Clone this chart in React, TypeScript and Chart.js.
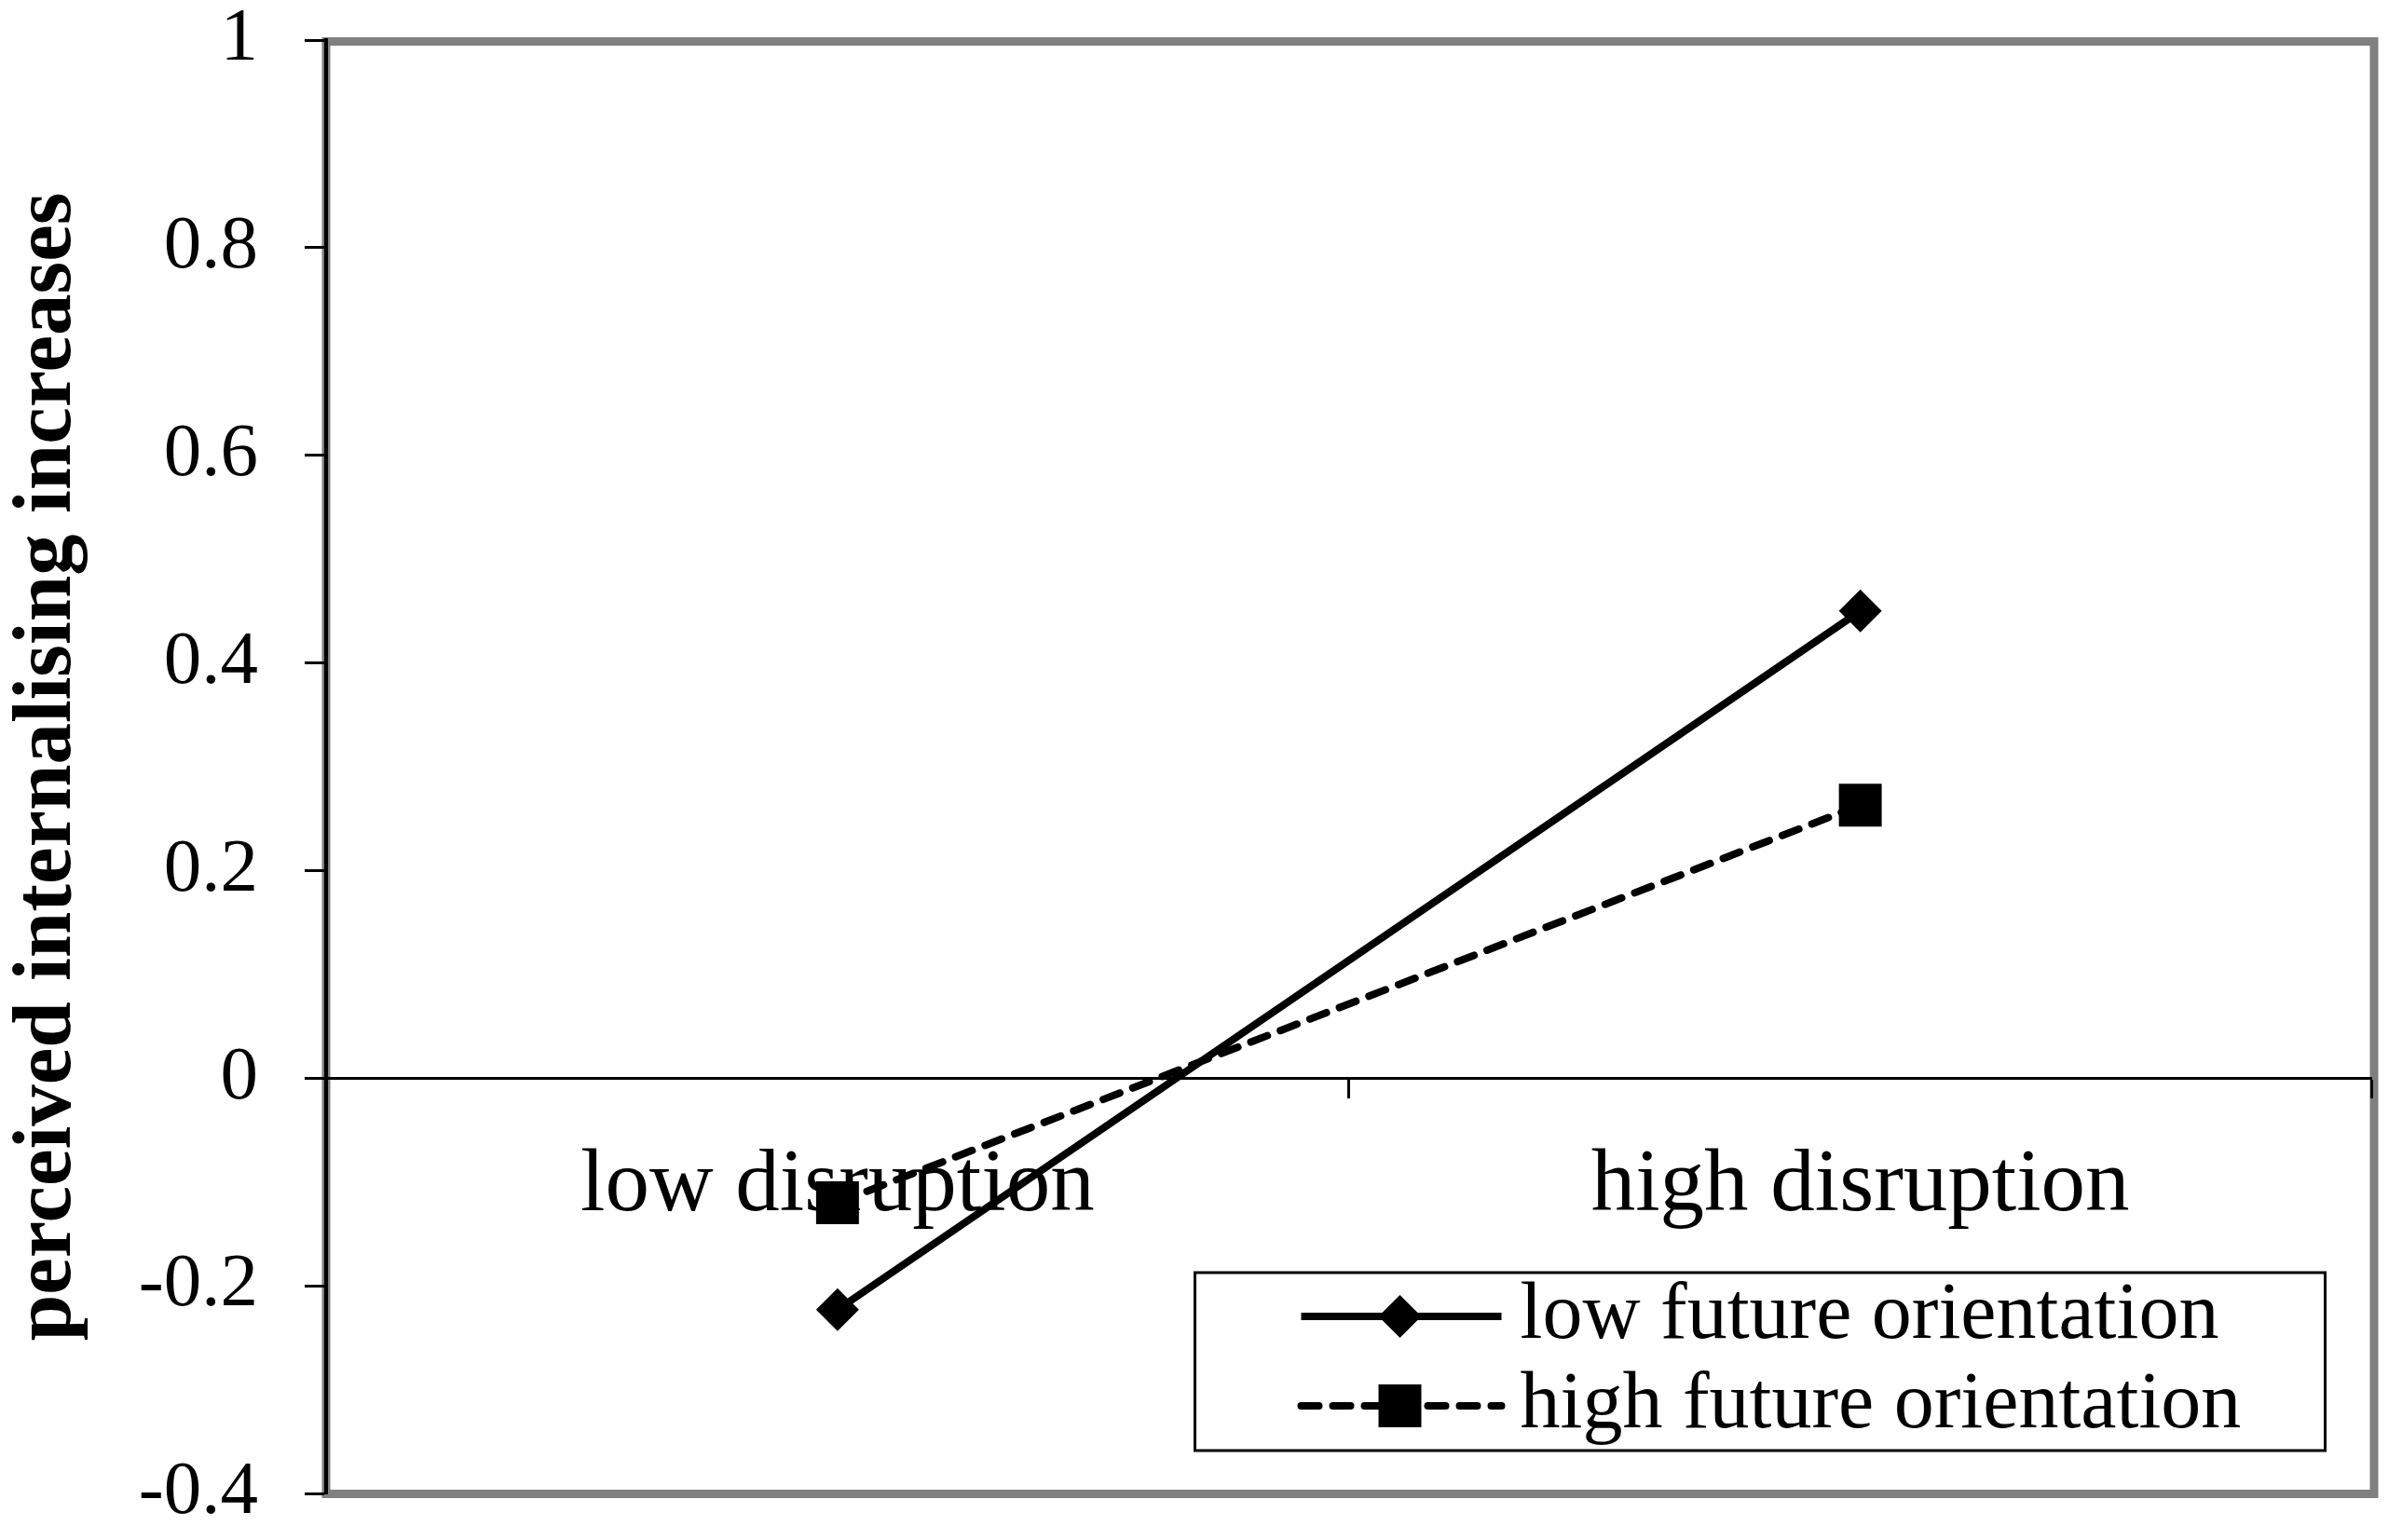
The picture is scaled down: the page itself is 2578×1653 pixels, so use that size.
import { useEffect, useRef } from "react";
import Chart from "chart.js/auto";

const CATEGORIES = ["low disruption", "high disruption"];
const LOW_FUTURE_LABEL = "low future orientation";
const HIGH_FUTURE_LABEL = "high future orientation";
const LOW_FUTURE = [-0.223, 0.45];
const HIGH_FUTURE = [-0.12, 0.263];
const Y_MIN = -0.4;
const Y_MAX = 1;
const Y_STEP = 0.2;
const Y_TITLE = "perceived internalising increases";

const FONT = "'Liberation Serif', 'Times New Roman', serif";

// grey frame round the plot area, drawn under the axes
const framePlugin = {
  id: "frame",
  beforeDraw(chart: any) {
    const { ctx, chartArea } = chart;
    const { left, top, right, bottom } = chartArea;
    ctx.save();
    ctx.strokeStyle = "#808080";
    ctx.lineWidth = 9;
    ctx.strokeRect(left, top + 1.5, right + 2.5 - left, bottom - top - 1);
    ctx.restore();
  },
};

// boxed legend in the lower right of the plot, line sample with marker in the middle
const boxLegendPlugin = {
  id: "boxLegend",
  afterDraw(chart: any) {
    const { ctx, chartArea } = chart;
    const x1 = chartArea.right - 1263;
    const x2 = chartArea.right - 50;
    const y1 = chartArea.bottom - 237;
    const y2 = chartArea.bottom - 46;
    ctx.save();
    ctx.fillStyle = "#fff";
    ctx.fillRect(x1, y1, x2 - x1, y2 - y1);
    ctx.lineWidth = 3;
    ctx.strokeStyle = "#000";
    ctx.strokeRect(x1, y1, x2 - x1, y2 - y1);
    chart.data.datasets.forEach((ds: any, i: number) => {
      const cy = y1 + 47 + i * 96;
      ctx.beginPath();
      ctx.strokeStyle = ds.borderColor;
      ctx.lineWidth = ds.borderWidth;
      ctx.lineCap = ds.borderCapStyle || "butt";
      ctx.setLineDash(ds.borderDash || []);
      ctx.moveTo(x1 + 114, cy);
      ctx.lineTo(x1 + 329, cy);
      ctx.stroke();
      ctx.setLineDash([]);
      const mx = x1 + 220;
      const r = ds.pointRadius;
      ctx.fillStyle = ds.pointBackgroundColor;
      ctx.beginPath();
      if (ds.pointStyle === "rectRot") {
        ctx.moveTo(mx - r, cy);
        ctx.lineTo(mx, cy - r);
        ctx.lineTo(mx + r, cy);
        ctx.lineTo(mx, cy + r);
        ctx.closePath();
      } else {
        const s = r * Math.SQRT1_2;
        ctx.rect(mx - s, cy - s, 2 * s, 2 * s);
      }
      ctx.fill();
      ctx.fillStyle = "#000";
      ctx.font = `86px ${FONT}`;
      ctx.textAlign = "left";
      ctx.textBaseline = "alphabetic";
      ctx.fillText(ds.label, x1 + 349, cy + 23);
    });
    ctx.restore();
  },
};

export default function App() {
  const canvasRef = useRef<HTMLCanvasElement>(null);

  useEffect(() => {
    document.body.style.margin = "0";
    if (!canvasRef.current) return;
    const chart = new Chart(canvasRef.current, {
      type: "line",
      data: {
        labels: CATEGORIES,
        datasets: [
          {
            label: LOW_FUTURE_LABEL,
            data: LOW_FUTURE,
            borderColor: "#000",
            backgroundColor: "#000",
            borderWidth: 8,
            pointStyle: "rectRot",
            pointRadius: 23,
            pointBorderWidth: 0,
            pointBackgroundColor: "#000",
            tension: 0,
          },
          {
            label: HIGH_FUTURE_LABEL,
            data: HIGH_FUTURE,
            borderColor: "#000",
            backgroundColor: "#000",
            borderWidth: 8,
            borderDash: [19, 15],
            borderCapStyle: "round",
            pointStyle: "rect",
            pointRadius: 32.5,
            pointBorderWidth: 0,
            pointBackgroundColor: "#000",
            tension: 0,
          },
        ],
      },
      options: {
        animation: false,
        responsive: false,
        devicePixelRatio: 1,
        layout: { padding: { top: 43, right: 25, bottom: 50, left: 0 } },
        plugins: {
          legend: { display: false },
          tooltip: { enabled: false },
        },
        scales: {
          x: {
            type: "category",
            position: { y: 0 },
            offset: true,
            afterFit: (scale: any) => {
              scale.height = 0;
              scale.paddingLeft = 0;
              scale.paddingRight = 0;
            },
            grid: {
              display: true,
              offset: true,
              drawOnChartArea: false,
              drawTicks: true,
              tickLength: 20,
              tickWidth: 3,
              tickColor: "#000",
            },
            border: { display: true, color: "#000", width: 3 },
            ticks: {
              color: "#000",
              padding: 40,
              maxRotation: 0,
              autoSkip: false,
              font: { family: FONT, size: 95 },
            },
          },
          y: {
            type: "linear",
            min: Y_MIN,
            max: Y_MAX,
            afterFit: (scale: any) => {
              scale.width = 350;
              scale.paddingTop = 0;
              scale.paddingBottom = 0;
            },
            grid: {
              display: true,
              drawOnChartArea: false,
              drawTicks: true,
              tickLength: 23,
              tickWidth: 3,
              tickColor: "#000",
            },
            border: { display: true, color: "#000", width: 4 },
            ticks: {
              stepSize: Y_STEP,
              color: "#000",
              padding: 50,
              font: { family: FONT, size: 81, lineHeight: 1 },
              callback: (v: any) => String(Math.round(Number(v) * 10) / 10),
            },
            title: {
              display: true,
              text: Y_TITLE,
              color: "#000",
              padding: { top: 8, bottom: 0 },
              font: { family: FONT, size: 89, weight: "bold", lineHeight: 1 },
            },
          },
        },
      },
      plugins: [framePlugin, boxLegendPlugin],
    });
    return () => chart.destroy();
  }, []);

  return (
    <div style={{ width: 2578, height: 1653, background: "#fff" }}>
      <canvas ref={canvasRef} width={2578} height={1653} style={{ width: 2578, height: 1653, display: "block" }} />
    </div>
  );
}
